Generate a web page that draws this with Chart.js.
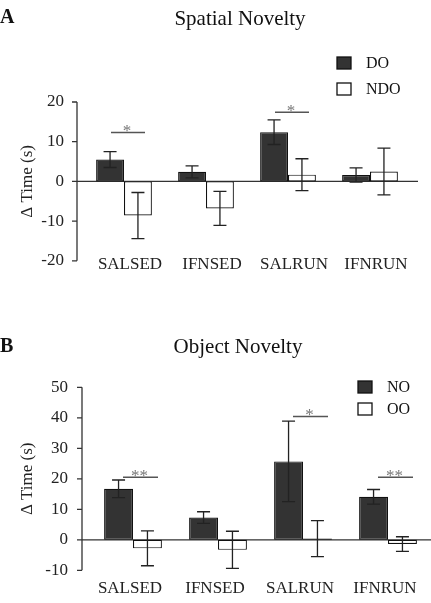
<!DOCTYPE html>
<html>
<head>
<meta charset="utf-8">
<script src="https://cdn.jsdelivr.net/npm/chart.js@4.4.1/dist/chart.umd.min.js"></script>
<style>
  body { margin: 0; background: #fff; }
  canvas { position: absolute; left: 0; }
</style>
</head>
<body>
<canvas id="spatial" width="431" height="290" style="top:0"></canvas>
<canvas id="object" width="431" height="313" style="top:290px"></canvas>
<script>
// groups on the x axis
const groups = ['SALSED', 'IFNSED', 'SALRUN', 'IFNRUN'];

// A: spatial novelty
const spatialTicks = [-20, -10, 0, 10, 20];
const spatialDO = [5.5, 2.4, 12.4, 1.6];
const spatialDOErr = [2.0, 1.5, 3.1, 1.8];
const spatialNDO = [-8.6, -6.8, 1.7, 2.5];
const spatialNDOErr = [5.8, 4.3, 4.0, 5.9];
const spatialSigGroup = [0, 2];
const spatialSigLevel = [12.3, 17.4];
const spatialSigMark = ['*', '*'];

// B: object novelty
const objectTicks = [-10, 0, 10, 20, 30, 40, 50];
const objectNO = [16.7, 7.3, 25.7, 14.1];
const objectNOErr = [2.9, 1.9, 13.2, 2.4];
const objectOO = [-2.8, -3.3, 0.4, -1.4];
const objectOOErr = [5.7, 6.1, 5.9, 2.4];
const objectSigGroup = [0, 2, 3];
const objectSigLevel = [20.5, 40.4, 20.5];
const objectSigMark = ['**', '*', '**'];

const SERIF = '"Liberation Serif", "Times New Roman", serif';
Chart.defaults.font.family = SERIF;
Chart.defaults.color = '#222';

const panelPlugin = {
  id: 'panel',
  beforeDatasetsDraw(chart, args, opts) {
    const { ctx, chartArea } = chart;
    const y = chart.scales.y;
    const ax = chartArea.left - opts.axisGap;
    ctx.save();
    ctx.strokeStyle = '#333';
    ctx.lineWidth = 1.3;
    ctx.beginPath();
    ctx.moveTo(ax, y.getPixelForValue(y.max));
    ctx.lineTo(ax, y.getPixelForValue(y.min));
    y.ticks.forEach(t => {
      const py = y.getPixelForValue(t.value);
      ctx.moveTo(ax - 5, py);
      ctx.lineTo(ax, py);
    });
    const zy = y.getPixelForValue(0);
    ctx.moveTo(ax, zy);
    ctx.lineTo(chartArea.right + opts.zeroExtend, zy);
    ctx.stroke();
    ctx.restore();
  },

  afterDatasetsDraw(chart, args, opts) {
    const { ctx } = chart;
    const x = chart.scales.x, y = chart.scales.y;
    ctx.save();
    // error bars
    ctx.strokeStyle = '#222';
    ctx.lineWidth = 1.3;
    chart.data.datasets.forEach((ds, i) => {
      chart.getDatasetMeta(i).data.forEach((bar, j) => {
        const hi = y.getPixelForValue(ds.data[j] + ds.errors[j]);
        const lo = y.getPixelForValue(ds.data[j] - ds.errors[j]);
        ctx.beginPath();
        ctx.moveTo(bar.x, hi); ctx.lineTo(bar.x, lo);
        ctx.moveTo(bar.x - 6.5, hi); ctx.lineTo(bar.x + 6.5, hi);
        ctx.moveTo(bar.x - 6.5, lo); ctx.lineTo(bar.x + 6.5, lo);
        ctx.stroke();
      });
    });
    // significance markers
    const sig = opts.sig;
    sig.groups.forEach((g, k) => {
      const cx = x.getPixelForValue(g);
      const py = y.getPixelForValue(sig.levels[k]);
      const x0 = cx + opts.sigFrom, x1 = cx + opts.sigTo;
      ctx.strokeStyle = '#555';
      ctx.lineWidth = 1.5;
      ctx.beginPath();
      ctx.moveTo(x0, py); ctx.lineTo(x1, py);
      ctx.stroke();
      ctx.fillStyle = '#777';
      ctx.font = '17px ' + SERIF;
      ctx.textAlign = 'center';
      ctx.textBaseline = 'alphabetic';
      ctx.fillText(sig.marks[k], (x0 + x1) / 2 - 1, py + 3.5);
    });
    ctx.restore();
  },

  afterDraw(chart, args, opts) {
    const { ctx } = chart;
    const x = chart.scales.x;
    ctx.save();
    ctx.fillStyle = '#111';
    ctx.textBaseline = 'alphabetic';
    ctx.textAlign = 'left';
    ctx.font = 'bold 20px ' + SERIF;
    ctx.fillText(opts.letter, 0, opts.letterY);
    ctx.textAlign = 'center';
    ctx.font = '21px ' + SERIF;
    ctx.fillText(opts.title, opts.titleX, opts.titleY);
    // group labels, sitting level with the lowest tick
    ctx.font = '17px ' + SERIF;
    ctx.fillStyle = '#222';
    ctx.textBaseline = 'middle';
    chart.data.labels.forEach((lab, i) => {
      ctx.fillText(lab, x.getPixelForValue(i) + opts.labelShift, opts.labelY);
    });
    // legend
    const lg = opts.legend;
    ctx.font = '16px ' + SERIF;
    ctx.textAlign = 'left';
    chart.data.datasets.forEach((ds, i) => {
      const top = lg.y[i];
      ctx.fillStyle = ds.backgroundColor;
      ctx.fillRect(lg.x, top, 14, 12);
      ctx.strokeStyle = '#111';
      ctx.lineWidth = 1.3;
      ctx.strokeRect(lg.x, top, 14, 12);
      ctx.fillStyle = '#111';
      ctx.fillText(ds.label, lg.x + 29, top + 6.5);
    });
    ctx.restore();
  }
};

function barPanel(canvasId, cfg) {
  const ctx = document.getElementById(canvasId).getContext('2d');
  return new Chart(ctx, {
    type: 'bar',
    data: {
      labels: groups,
      datasets: cfg.series.map(s => ({
        label: s.label,
        data: s.data,
        errors: s.errors,
        backgroundColor: s.fill,
        borderColor: '#111',
        borderWidth: 1.2,
        borderSkipped: false,
        barPercentage: 1.0,
        categoryPercentage: 0.68
      }))
    },
    options: {
      responsive: false,
      animation: false,
      layout: { padding: cfg.padding },
      plugins: {
        legend: { display: false },
        tooltip: { enabled: false },
        panel: cfg.panel
      },
      scales: {
        x: {
          grid: { display: false, drawTicks: false },
          border: { display: false },
          ticks: { display: false },
          afterFit: s => { s.height = cfg.xHeight; }
        },
        y: {
          min: cfg.ticks[0],
          max: cfg.ticks[cfg.ticks.length - 1],
          grid: { display: false, drawTicks: false },
          border: { display: false },
          ticks: { stepSize: 10, font: { size: 17 }, color: '#222', padding: cfg.yPad },
          title: { display: true, text: 'Δ Time (s)', font: { size: 17 }, color: '#222', padding: { top: 17 } },
          afterFit: s => { s.width = cfg.yWidth; }
        }
      }
    },
    plugins: [panelPlugin]
  });
}

barPanel('spatial', {
  ticks: spatialTicks,
  series: [
    { label: 'DO', data: spatialDO, errors: spatialDOErr, fill: '#333' },
    { label: 'NDO', data: spatialNDO, errors: spatialNDOErr, fill: '#fff' }
  ],
  padding: { top: 102, right: 20, left: 0, bottom: 0 },
  yWidth: 83, yPad: 19,
  xHeight: 28,
  panel: {
    letter: 'A', letterY: 23,
    title: 'Spatial Novelty', titleX: 240, titleY: 25,
    labelY: 265, labelShift: 6,
    axisGap: 6, zeroExtend: 7,
    sigFrom: -13, sigTo: 21,
    sig: { groups: spatialSigGroup, levels: spatialSigLevel, marks: spatialSigMark },
    legend: { x: 337, y: [57, 83] }
  }
});

barPanel('object', {
  ticks: objectTicks,
  series: [
    { label: 'NO', data: objectNO, errors: objectNOErr, fill: '#333' },
    { label: 'OO', data: objectOO, errors: objectOOErr, fill: '#fff' }
  ],
  padding: { top: 97.3, right: 0.5, left: 0, bottom: 0 },
  yWidth: 90.5, yPad: 22.5,
  xHeight: 31.3,
  panel: {
    letter: 'B', letterY: 61.7,
    title: 'Object Novelty', titleX: 238, titleY: 62.7,
    labelY: 299, labelShift: -3,
    axisGap: 8.5, zeroExtend: 0.5,
    sigFrom: -10, sigTo: 25,
    sig: { groups: objectSigGroup, levels: objectSigLevel, marks: objectSigMark },
    legend: { x: 358, y: [91, 113] }
  }
});
</script>
</body>
</html>
